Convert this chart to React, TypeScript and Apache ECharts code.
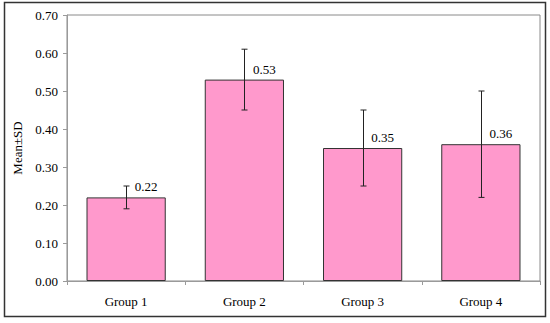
import React, { useEffect, useRef } from "react";
import * as echarts from "echarts";

const categories = ["Group 1", "Group 2", "Group 3", "Group 4"];
const means = [0.22, 0.53, 0.35, 0.36];
const sds = [0.03, 0.08, 0.1, 0.14];
const yTicks = { min: 0, max: 0.7, interval: 0.1 };

const FONT = "'Liberation Serif', 'Times New Roman', serif";

export default function App() {
  const ref = useRef<HTMLDivElement>(null);
  useEffect(() => {
    if (!ref.current) return;
    const chart = echarts.init(ref.current, null, { renderer: "svg" });
    const errData = means.map((m, i) => [i, m - sds[i], m + sds[i]]);
    chart.setOption({
      animation: false,
      backgroundColor: "#fff",
      textStyle: { fontFamily: FONT },
      grid: {
        left: 67,
        right: 10,
        top: 15,
        bottom: 42,
        show: true,
        borderColor: "#8a8a8a",
        borderWidth: 1,
      },
      graphic: [
        {
          type: "rect",
          shape: { x: 4.5, y: 2.5, width: 541, height: 314 },
          style: { fill: "none", stroke: "#333", lineWidth: 1.5 },
          silent: true,
          z: 100,
        },
      ],
      xAxis: {
        type: "category",
        data: categories,
        axisLine: { show: true, lineStyle: { color: "#9a9a9a" } },
        axisTick: { show: true, length: 4, alignWithLabel: false, lineStyle: { color: "#9a9a9a" } },
        axisLabel: { color: "#000", fontSize: 13, fontFamily: FONT, margin: 14 },
        splitLine: { show: false },
      },
      yAxis: {
        type: "value",
        min: yTicks.min,
        max: yTicks.max,
        interval: yTicks.interval,
        name: "Mean±SD",
        nameLocation: "middle",
        nameRotate: 90,
        nameGap: 41,
        nameTextStyle: { color: "#000", fontSize: 13, fontFamily: FONT },
        axisLine: { show: true, lineStyle: { color: "#9a9a9a" } },
        axisTick: { show: true, length: 4, lineStyle: { color: "#9a9a9a" } },
        axisLabel: {
          color: "#000",
          fontSize: 13,
          fontFamily: FONT,
          margin: 9,
          formatter: (v: number) => v.toFixed(2),
        },
        splitLine: { show: false },
      },
      series: [
        {
          type: "bar",
          data: means,
          barWidth: "67%",
          itemStyle: { color: "#ff99cc", borderColor: "#333", borderWidth: 1 },
          label: {
            show: true,
            position: "top",
            distance: 4,
            offset: [20, 0],
            color: "#000",
            fontSize: 13,
            fontFamily: FONT,
            formatter: (p: any) => Number(p.value).toFixed(2),
          },
          z: 2,
        },
        {
          type: "custom",
          data: errData,
          z: 5,
          renderItem: (params: any, api: any) => {
            const x = api.value(0);
            const lo = api.coord([x, api.value(1)]);
            const hi = api.coord([x, api.value(2)]);
            const cx = Math.round(lo[0]) + 0.5;
            const hw = 3;
            const style = { stroke: "#222", lineWidth: 1 };
            return {
              type: "group",
              children: [
                { type: "line", shape: { x1: cx, y1: lo[1], x2: cx, y2: hi[1] }, style },
                { type: "line", shape: { x1: cx - hw, y1: lo[1], x2: cx + hw, y2: lo[1] }, style },
                { type: "line", shape: { x1: cx - hw, y1: hi[1], x2: cx + hw, y2: hi[1] }, style },
              ],
            };
          },
        },
      ],
    });
    return () => chart.dispose();
  }, []);
  return (
    <div
      ref={ref}
      style={{ position: "absolute", left: 0, top: 0, width: 550, height: 323 }}
    />
  );
}
